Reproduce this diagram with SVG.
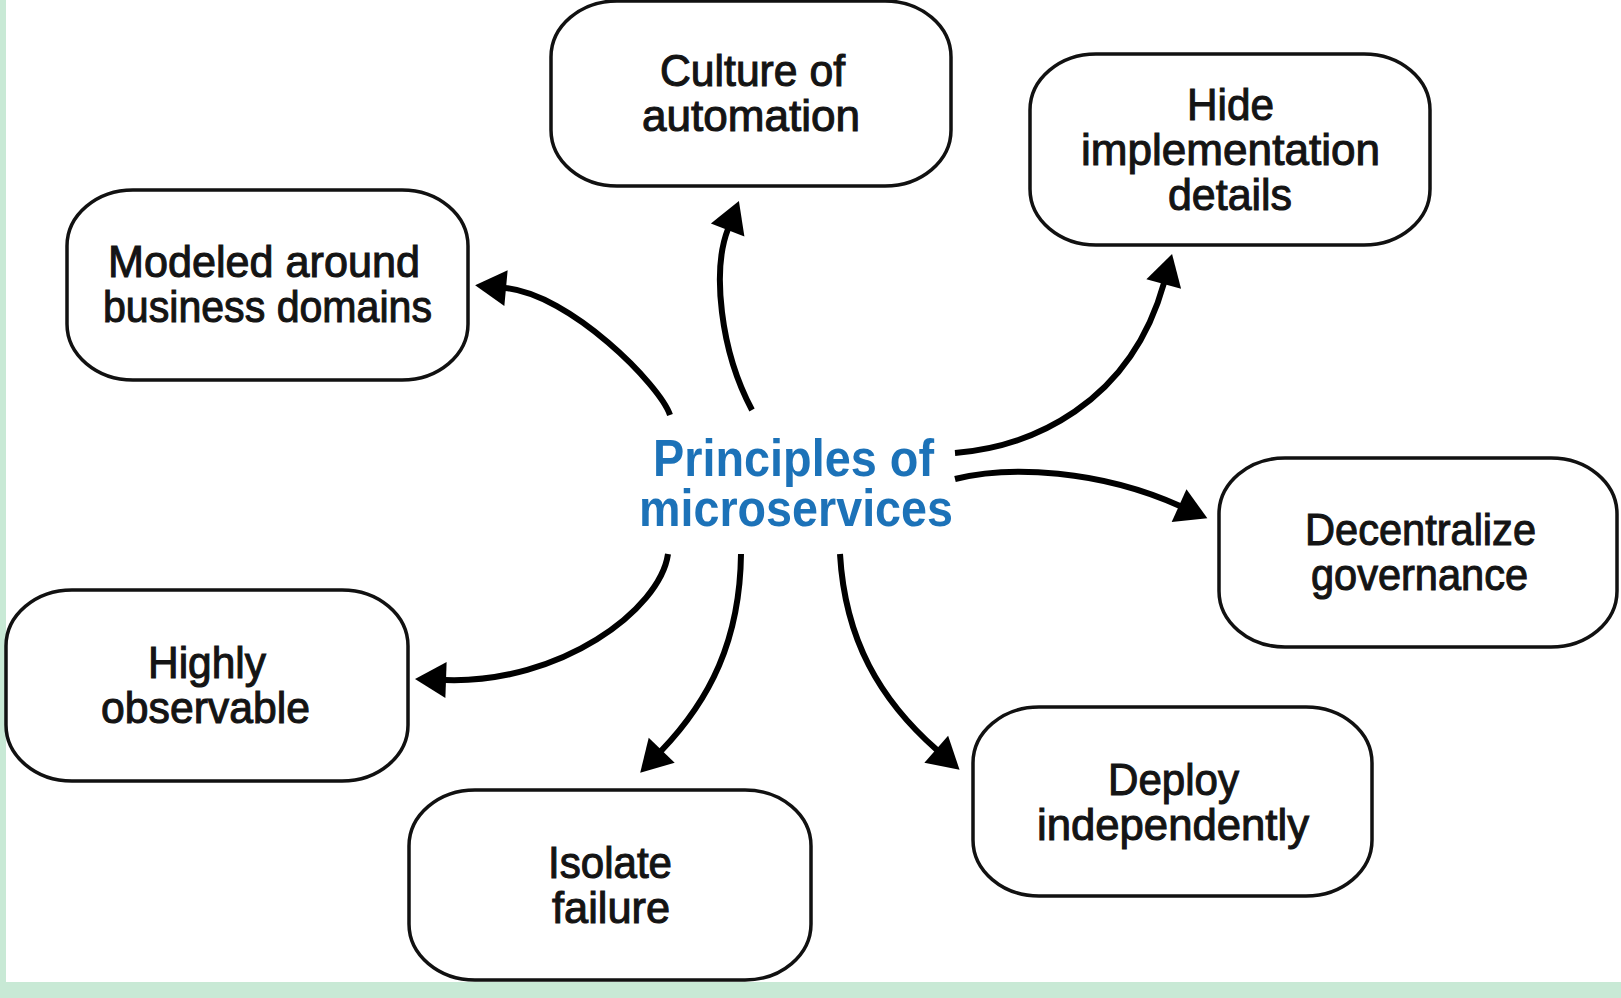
<svg xmlns="http://www.w3.org/2000/svg" width="1621" height="998" viewBox="0 0 1621 998">
<style>
.box{fill:#fff;stroke:#111;stroke-width:3.5}
.lbl{font-family:"Liberation Sans",Arial,sans-serif;font-size:45px;fill:#141414;stroke:#141414;stroke-width:1.1}
.ctr{font-family:"Liberation Sans",Arial,sans-serif;font-size:52px;font-weight:bold;fill:#1c72b8}
.con{fill:none;stroke:#000;stroke-width:6}
</style>
<defs>
<marker id="ah" markerUnits="userSpaceOnUse" viewBox="-2 -20 34 40" markerWidth="34" markerHeight="40" refX="0" refY="0" orient="auto">
<path d="M-1,-18 L30,0 L-1,18 Z" fill="#000"/>
</marker>
</defs>
<rect x="0" y="0" width="1621" height="998" fill="#fff"/>
<rect x="0" y="0" width="6" height="998" fill="#c8e9d5"/>
<rect x="0" y="982" width="1621" height="16" fill="#c8e9d5"/>

<g id="connectors">
<path class="con" marker-end="url(#ah)" d="M670,415 C660,385 570,294 505,288"/>
<path class="con" marker-end="url(#ah)" d="M752,410 C720,350 712,270 728,229"/>
<path class="con" marker-end="url(#ah)" d="M955,453 C1030,447 1130,405 1164,283"/>
<path class="con" marker-end="url(#ah)" d="M955,479 C1010,465 1100,470 1180,506"/>
<path class="con" marker-end="url(#ah)" d="M668,554 C660,610 560,684 445,680"/>
<path class="con" marker-end="url(#ah)" d="M741,554 C740,640 710,700 661,751"/>
<path class="con" marker-end="url(#ah)" d="M840,554 C845,640 880,700 937,750"/>
</g>

<g id="center">
<text class="ctr" x="653" y="476" textLength="281" lengthAdjust="spacingAndGlyphs">Principles of</text>
<text class="ctr" x="639" y="526" textLength="314" lengthAdjust="spacingAndGlyphs">microservices</text>
</g>

<g id="modeled">
<rect class="box" x="67" y="190" width="401" height="190" rx="66" ry="56"/>
<text class="lbl" x="108" y="277" textLength="312" lengthAdjust="spacingAndGlyphs">Modeled around</text>
<text class="lbl" x="103" y="322" textLength="329" lengthAdjust="spacingAndGlyphs">business domains</text>
</g>

<g id="culture">
<rect class="box" x="551" y="1" width="400" height="185" rx="66" ry="56"/>
<text class="lbl" x="660" y="86" textLength="185" lengthAdjust="spacingAndGlyphs">Culture of</text>
<text class="lbl" x="642" y="131" textLength="218" lengthAdjust="spacingAndGlyphs">automation</text>
</g>

<g id="hide">
<rect class="box" x="1030" y="54" width="400" height="191" rx="66" ry="56"/>
<text class="lbl" x="1187" y="120" textLength="87" lengthAdjust="spacingAndGlyphs">Hide</text>
<text class="lbl" x="1081" y="165" textLength="299" lengthAdjust="spacingAndGlyphs">implementation</text>
<text class="lbl" x="1168" y="210" textLength="124" lengthAdjust="spacingAndGlyphs">details</text>
</g>

<g id="decentralize">
<rect class="box" x="1219" y="458" width="398" height="189" rx="66" ry="56"/>
<text class="lbl" x="1305" y="545" textLength="231" lengthAdjust="spacingAndGlyphs">Decentralize</text>
<text class="lbl" x="1311" y="590" textLength="217" lengthAdjust="spacingAndGlyphs">governance</text>
</g>

<g id="deploy">
<rect class="box" x="973" y="707" width="399" height="189" rx="66" ry="56"/>
<text class="lbl" x="1108" y="795" textLength="131" lengthAdjust="spacingAndGlyphs">Deploy</text>
<text class="lbl" x="1037" y="840" textLength="272" lengthAdjust="spacingAndGlyphs">independently</text>
</g>

<g id="isolate">
<rect class="box" x="409" y="790" width="402" height="190" rx="66" ry="56"/>
<text class="lbl" x="548" y="878" textLength="124" lengthAdjust="spacingAndGlyphs">Isolate</text>
<text class="lbl" x="552" y="923" textLength="118" lengthAdjust="spacingAndGlyphs">failure</text>
</g>

<g id="highly">
<rect class="box" x="6" y="590" width="402" height="191" rx="66" ry="56"/>
<text class="lbl" x="148" y="678" textLength="118" lengthAdjust="spacingAndGlyphs">Highly</text>
<text class="lbl" x="101" y="723" textLength="209" lengthAdjust="spacingAndGlyphs">observable</text>
</g>
</svg>
